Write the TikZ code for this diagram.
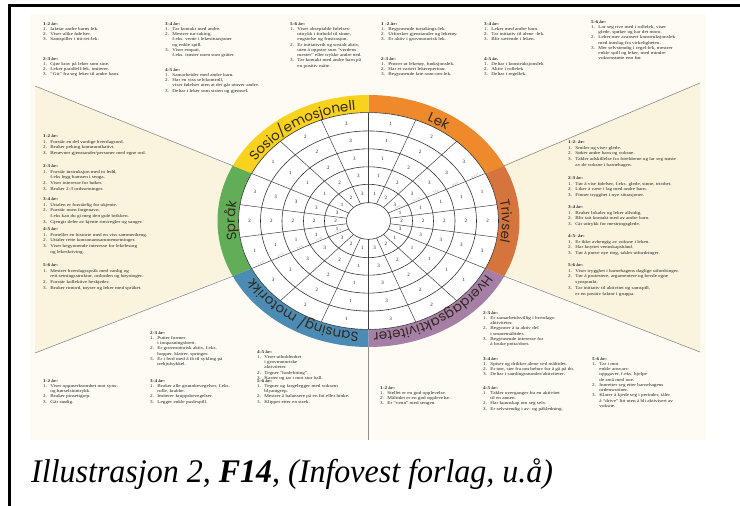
\documentclass[tikz,border=0pt]{standalone}
\usepackage{fontspec}
\setmainfont{Liberation Serif}
\newfontfamily\bandfont{Poppins}
\usetikzlibrary{decorations.text}

\definecolor{paper}{HTML}{FDFBF3}
\definecolor{cream}{HTML}{FAF4DE}
\definecolor{sosc}{HTML}{F8D21C}
\definecolor{lekc}{HTML}{EE8A2C}
\definecolor{trc}{HTML}{D6743E}
\definecolor{hvc}{HTML}{A57FA6}
\definecolor{sanc}{HTML}{4C8CB4}
\definecolor{sprc}{HTML}{62AD57}
\definecolor{bandink}{HTML}{33291F}
\definecolor{agered}{HTML}{C77A78}

\newcommand{\itm}[1]{\makebox[1.4em][l]{#1.}}
\newcommand{\cnt}{\hspace*{1.4em}}
\newcommand{\bandsize}{\bandfont\fontsize{13.5}{15}\selectfont}

\tikzset{
  smalltext/.style={font=\fontsize{5.2}{6.3}\selectfont, align=left, anchor=north west, inner sep=0pt, yscale=0.83, text=black!85},
  sidetext/.style={smalltext, font=\fontsize{5.2}{7}\selectfont},
  cellnum/.style={font=\fontsize{5}{6}\selectfont, inner sep=0pt, text=black!90},
  agemark/.style={font=\fontsize{2.8}{3.5}\selectfont, text=agered, inner sep=0.5pt, anchor=south, rotate=22.1},
  bandtext/.style={decorate, decoration={text along path, text align=center, text color=bandink}},
  ring/.style={draw=black!80, line width=0.6pt},
  spoke/.style={draw=black!75, line width=0.5pt},
  wedgeline/.style={draw=black!45, line width=0.6pt}
}

\begin{document}
\begin{tikzpicture}[x=1pt, y=1pt]
\useasboundingbox (0,0) rectangle (740,506);

\fill [paper] (30,66) rectangle (706,492);

\coordinate (c) at (368.5,285);
\coordinate (ul) at (35,420);
\coordinate (ll) at (35,153);
\coordinate (ur) at (700,423);
\coordinate (lr) at (700,154);
\coordinate (vb) at (368.5,66);

\fill [cream] (ul) -- (c) -- (ll) -- cycle;
\fill [cream] (ur) -- (c) -- (lr) -- cycle;

\begin{scope}[shift={(c)}]

%BAND
\foreach \a/\b/\col in {26/90/lekc, 90/154/sosc, 154/206/sprc, 206/270/sanc, 270/334/hvc, -26/26/trc}
  \fill [\col] (\a:151 and 126) arc [start angle=\a, end angle=\b, x radius=151, y radius=126]
    -- (\b:130 and 108.4) arc [start angle=\b, end angle=\a, x radius=130, y radius=108.4] -- cycle;
\foreach \t in {26,154,206,270,334}
  \coordinate (b\t) at (\t:151 and 126);

%RINGS
\fill [white] (0,0) ellipse [x radius=130, y radius=108.4];
\foreach \r in {22,44,65,86.5,108,130}
  \draw [ring] (0,0) ellipse [x radius=\r, y radius=0.834*\r];
\foreach \t in {26,47.33,68.67,90,111.33,132.67,154,171.33,188.67,206,227.33,248.67,270,291.33,312.67,334,351.33,8.67}
  \draw [spoke] (\t:22 and 18.35) -- (\t:130 and 108.4);

%NUMBERS
\foreach \a/\w in {90/64,154/64,206/52,270/64,334/64,26/52}
  \foreach \k in {1,2,3}
    \foreach \r [count=\i] in {33,54.5,75.75,97.25,119}
      \node (n\a-\k-\i) [cellnum] at ({\a-(\k-0.5)*\w/3}:{\r} and {0.834*\r}) {\k};

\foreach \r/\txt [count=\i] in {33/1-2 år, 54.5/2-3 år, 75.75/3-4 år, 97.25/4-5 år, 119/5-6 år} {
  \node (ra\i) [agemark] at (26:{\r} and {0.834*\r}) {\txt};
  \node (rb\i) [agemark] at (206:{\r} and {0.834*\r}) {\txt};
}

%LABELS
\path [bandtext, decoration={text={|\bandsize|Lek}}] (90:133.5 and 111.3) arc [start angle=90, end angle=26, x radius=133.5, y radius=111.3];
\path [bandtext, decoration={text={|\bandsize|Sosio/emosjonell}}] (154:133.5 and 111.3) arc [start angle=154, end angle=90, x radius=133.5, y radius=111.3];
\path [bandtext, decoration={text={|\bandsize|Språk}}] (206:133.5 and 111.3) arc [start angle=206, end angle=154, x radius=133.5, y radius=111.3];
\path [bandtext, decoration={text={|\bandsize|Sansing/ motorikk}}] (270:133.5 and 111.3) arc [start angle=270, end angle=206, x radius=133.5, y radius=111.3];
\path [bandtext, decoration={text={|\bandsize|Hverdagsaktiviteter}}] (334:133.5 and 111.3) arc [start angle=334, end angle=270, x radius=133.5, y radius=111.3];
\path [bandtext, decoration={text={|\bandsize|Trivsel}}] (26:133.5 and 111.3) arc [start angle=26, end angle=-26, x radius=133.5, y radius=111.3];

\end{scope}

\draw [wedgeline] (b154) -- (ul);
\draw [wedgeline] (b206) -- (ll);
\draw [wedgeline] (b26) -- (ur);
\draw [wedgeline] (b334) -- (lr);
\draw [wedgeline] (b270) -- (vb);

%SOSIO/EMOSJONELL
\node (s12) [smalltext] at (43,484) {\textbf{1-2 år:}\\ \itm{1}Iakttar andre barns lek.\\ \itm{2}Viser ulike følelser.\\ \itm{3}Samspiller i titt-tei-lek.};
\node (s23) [smalltext] at (43,449) {\textbf{2-3 år:}\\ \itm{1}Gjør krav på leker som sine.\\ \itm{2}Leker parallell-lek, imiterer.\\ \itm{3}``Gir'' fra seg leker til andre barn.};
\node (s34) [smalltext] at (165,484) {\textbf{3-4 år:}\\ \itm{1}Tar kontakt med andre.\\ \itm{2}Mestrer tur-taking,\\ \cnt f.eks. vente i lekesituasjoner\\ \cnt og enkle spill.\\ \itm{3}Viser empati,\\ \cnt f.eks. trøster noen som gråter.};
\node (s45) [smalltext] at (165,438) {\textbf{4-5 år:}\\ \itm{1}Samarbeider med andre barn.\\ \itm{2}Har en viss selvkontroll,\\ \cnt viser følelser uten at det går utover andre.\\ \itm{3}Deltar i leker som sisten og gjemsel.};
\node (s56) [smalltext] at (290,484) {\textbf{5-6 år:}\\ \itm{1}Viser akseptable følelses-\\ \cnt uttrykk i forhold til sinne,\\ \cnt engstelse og frustrasjon.\\ \itm{2}Er initiativrik og sosialt aktiv,\\ \cnt uten å oppstre som ``verdens\\ \cnt mester'' eller trykke andre ned.\\ \itm{3}Tar kontakt med andre barn på\\ \cnt en positiv måte.};

%LEK
\node (l12) [smalltext] at (381,484) {\textbf{1 -2 år:}\\ \itm{1}Begynnende turtakings-lek.\\ \itm{2}Utforsker gjenstander og leketøy.\\ \itm{3}Er aktiv i grovmotorisk lek.};
\node (l23) [smalltext] at (381,449) {\textbf{2-3 år:}\\ \itm{1}Prøver ut leketøy, funksjonslek.\\ \itm{2}Har et variert lekerepertoar.\\ \itm{3}Begynnende late-som-om-lek.};
\node (l34) [smalltext] at (484,484) {\textbf{3-4 år:}\\ \itm{1}Leker med andre barn.\\ \itm{2}Tar initiativ til alene -lek.\\ \itm{3}Blir værende i leken.};
\node (l45) [smalltext] at (484,449) {\textbf{4-5 år.}\\ \itm{1}Deltar i konstruksjonslek\\ \itm{2}Aktiv i rollelek\\ \itm{3}Deltar i regellek.};
\node (l56) [smalltext] at (591,486) {\textbf{5-6 år:}\\ \itm{1}Lar seg rive med i rollelek, viser\\ \cnt glede, spøker og har det moro.\\ \itm{2}Leker mer avansert konstruksjonslek\\ \cnt med innslag fra virkeligheten.\\ \itm{3}Mer selvstendig i regel-lek, mestrer\\ \cnt enkle spill og leker, med mindre\\ \cnt voksenstøtte enn før.};

%SPRAK
\node (p12) [sidetext] at (43,372) {\textbf{1-2 år:}\\ \itm{1}Forstår en del vanlige hverdagsord.\\ \itm{2}Bruker peking kommunikativt.\\ \itm{3}Benevner gjenstander/personer med egne ord.};
\node (p23) [sidetext] at (43,342) {\textbf{2-3 år:}\\ \itm{1}Forstår instruksjon med to ledd,\\ \cnt f.eks legg bamsen i senga.\\ \itm{2}Viser interesse for bøker.\\ \itm{3}Bruker 2-3 ordssetninger.};
\node (p34) [sidetext] at (43,309) {\textbf{3-4 år:}\\ \itm{1}Uttalen er forståelig for ukjente.\\ \itm{2}Forstår noen fargenavn,\\ \cnt f.eks kan du gi meg den gule brikken.\\ \itm{3}Gjengir deler av kjente rim/regler og sanger.};
\node (p45) [sidetext] at (43,279) {\textbf{4-5 år:}\\ \itm{1}Forteller en historie med en viss sammenheng.\\ \itm{2}Uttaler rette konsonantsammensetninger.\\ \itm{3}Viser begynnende interesse for lekelesing\\ \cnt og lekeskriving.};
\node (p56) [sidetext] at (43,243) {\textbf{5-6 år:}\\ \itm{1}Mestrer hverdagsspråk med vanlig og\\ \cnt rett setningsstruktur, ordorden og bøyninger.\\ \itm{2}Forstår kollektive beskjeder.\\ \itm{3}Bruker rimord, tøyser og leker med språket.};

%TRIVSEL
\node (t12) [sidetext] at (568,366) {\textbf{1-2- år:}\\ \itm{1}Smiler og viser glede.\\ \itm{2}Søker andre barn og voksne.\\ \itm{3}Takler adskillelse fra foreldrene og lar seg trøste\\ \cnt av de voksne i barnehagen.};
\node (t23) [sidetext] at (568,330) {\textbf{2-3 år:}\\ \itm{1}Tør å vise følelser, f.eks. glede, sinne, tristhet.\\ \itm{2}Liker å være i lag med andre barn.\\ \itm{3}Finner trygghet i nye situasjoner.};
\node (t34) [sidetext] at (568,301) {\textbf{3-4 år:}\\ \itm{1}Bruker lokaler og leker allsidig.\\ \itm{2}Blir tatt kontakt med av andre barn.\\ \itm{3}Gir uttrykk for mestringsglede.};
\node (t45) [sidetext] at (568,272) {\textbf{4-5- år:}\\ \itm{1}Er ikke avhengig av voksne i leken.\\ \itm{2}Har knyttet vennskapsbånd.\\ \itm{3}Tør å prøve nye ting, takler utfordringer.};
\node (t56) [sidetext] at (568,243) {\textbf{5-6 år:}\\ \itm{1}Viser trygghet i barnehagens daglige utfordringer.\\ \itm{2}Tør å protestere, argumentere og hevde egne\\ \cnt synspunkt.\\ \itm{3}Tar initiativ til aktivitet og samspill,\\ \cnt er en positiv faktor i gruppa.};

%SANSING/MOTORIKK
\node (m23) [smalltext] at (150,175) {\textbf{2-3 år:}\\ \itm{1}Putter former\\ \cnt i innpasningsbrett.\\ \itm{2}Er grovmotorisk aktiv, f.eks.\\ \cnt hopper, klatrer, springer.\\ \itm{3}Er i ferd med å få til sykling på\\ \cnt trehjulsykkel.};
\node (m12) [smalltext] at (43,127) {\textbf{1-2 år:}\\ \itm{1}Viser oppmerksomhet mot syns-\\ \cnt og hørselsinntrykk.\\ \itm{2}Bruker pinsettgrep.\\ \itm{3}Går stødig.};
\node (m34) [smalltext] at (150,127) {\textbf{3-4 år:}\\ \itm{1}Bruker alle grunnbevegelser, f.eks.\\ \cnt rulle, krabbe.\\ \itm{2}Imiterer kroppsbevegelser.\\ \itm{3}Legger enkle puslespill.};
\node (m45) [smalltext] at (257,156) {\textbf{4-5 år:}\\ \itm{1}Viser utholdenhet\\ \cnt i grovmotoriske\\ \cnt aktiviteter.\\ \itm{2}Tegner ``hodefoting''.\\ \itm{3}Kaster og tar i mot stor ball.};
\node (m56) [smalltext] at (257,127) {\textbf{5-6 år:}\\ \itm{1}Tegner og fargelegger med voksent\\ \cnt blyantgrep.\\ \itm{2}Mestrer å balansere på en fot eller hinke.\\ \itm{3}Klipper etter en strek.};

%HVERDAGSAKTIVITETER
\node (h23) [smalltext] at (483,195) {\textbf{2-3 år:}\\ \itm{1}Er samarbeidsvillig i hverdags-\\ \cnt aktiviteter.\\ \itm{2}Begynner å ta aktiv del\\ \cnt i smøremåltider.\\ \itm{3}Begynnende interesse for\\ \cnt å bruke potta/doet.};
\node (h12) [smalltext] at (380,120) {\textbf{1-2 år:}\\ \itm{1}Stellet er en god opplevelse.\\ \itm{2}Måltidet er en god opplevelse.\\ \itm{3}Er ``venn'' med sengen.};
\node (h34) [smalltext] at (483,149) {\textbf{3-4 år:}\\ \itm{1}Spiser og drikker alene ved måltidet.\\ \itm{2}Er tørr, sier fra om behov for å gå på do.\\ \itm{3}Deltar i samlingsstunder/aktiviteter.};
\node (h45) [smalltext] at (483,120) {\textbf{4-5 år:}\\ \itm{1}Takler overganger fra en aktivitet\\ \cnt til en annen.\\ \itm{2}Har kunnskap om seg selv.\\ \itm{3}Er selvstendig i av- og påkledning.};
\node (h56) [smalltext] at (592,149) {\textbf{5-6 år:}\\ \itm{1}Tar i mot\\ \cnt enkle ansvars-\\ \cnt oppgaver, f.eks. hjelpe\\ \cnt de små med noe.\\ \itm{2}Innretter seg etter barnehagens\\ \cnt ordensrutiner.\\ \itm{3}Klarer å kjede seg i perioder, tåler\\ \cnt å ``drive'' litt uten å bli aktivisert av\\ \cnt voksne.};

%CAPTION
\node (cap) [anchor=base west, inner sep=0pt, xscale=0.97, font=\fontsize{33}{36}\selectfont\itshape] at (31,23) {Illustrasjon 2, \textbf{F14}, (Infovest forlag, u.å)};

\draw [line width=2.5pt] (8,500.5) -- (740,500.5);
\draw [line width=2.5pt] (9.5,502) -- (9.5,0);

\end{tikzpicture}
\end{document}
